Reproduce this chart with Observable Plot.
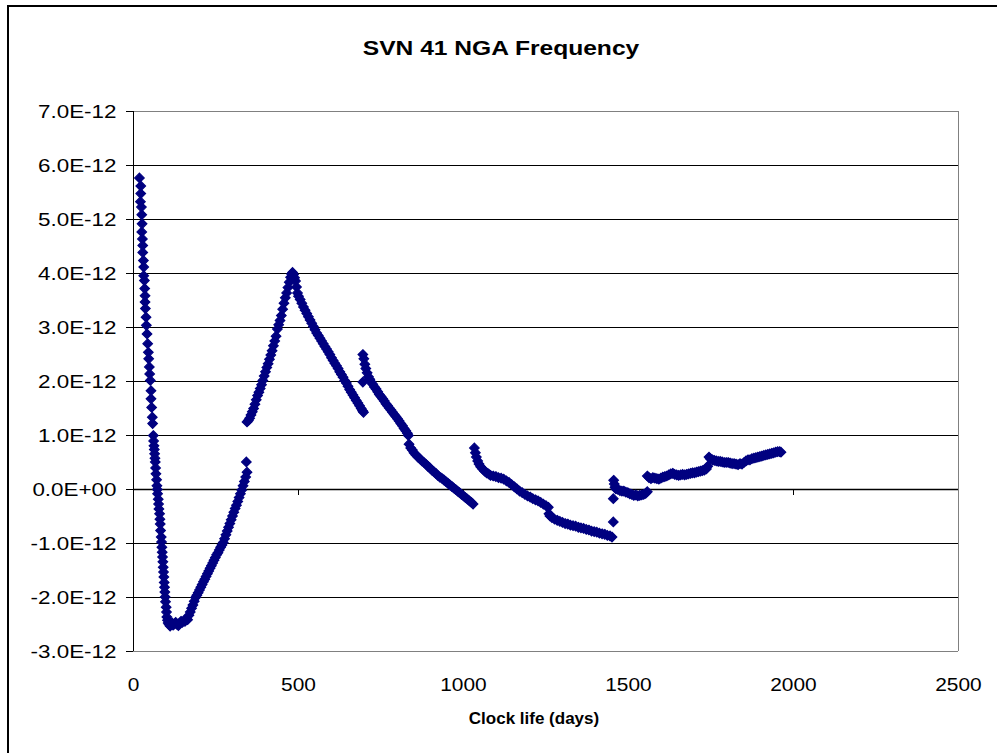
<!DOCTYPE html>
<html>
<head>
<meta charset="utf-8">
<script src="https://cdn.jsdelivr.net/npm/d3@7"></script>
<script src="https://cdn.jsdelivr.net/npm/@observablehq/plot@0.6"></script>
<style>
  html, body { margin: 0; padding: 0; background: #fff; overflow: hidden; }
  #wrap { position: relative; width: 997px; height: 753px; overflow: hidden; }
  #border { position: absolute; left: 7px; top: 5px; width: 1010px; height: 770px; border: 2px solid #000; box-sizing: border-box; }
  #chart { position: absolute; left: 0; top: 0; }
</style>
</head>
<body>
<div id="wrap"><div id="border"></div><div id="chart"></div></div>
<script>
// Frequency values in units of 1E-12, versus clock life (days)
const title = "SVN 41 NGA Frequency";
const xLabel = "Clock life (days)";
const xTicks = [0, 500, 1000, 1500, 2000, 2500];
const yTicks = [-3, -2, -1, 0, 1, 2, 3, 4, 5, 6, 7];

const run1 = [[18,5.77],[22,5.62],[22,5.48],[21,5.33],[24,5.23],[25,5.09],[26,4.92],[25,4.77],[27,4.64],[28,4.52],[28,4.39],[30,4.24],[31,4.12],[31,3.96],[33,3.87],[34,3.72],[35,3.59],[35,3.47],[36,3.35],[38,3.19],[39,3.04],[41,2.88],[43,2.70],[45,2.54],[46,2.42],[48,2.27],[49,2.14],[51,2.02],[53,1.83],[53,1.68],[55,1.52],[57,1.34],[58,1.22],[60,1.00],[61,0.90],[62,0.81],[63,0.74],[64,0.66],[65,0.58],[66,0.51],[67,0.40],[68,0.29],[70,0.18],[71,0.07],[72,0.00],[73,-0.08],[75,-0.18],[76,-0.27],[77,-0.36],[79,-0.45],[80,-0.55],[81,-0.64],[82,-0.76],[84,-0.88],[85,-0.97],[86,-1.07],[87,-1.16],[88,-1.25],[89,-1.34],[90,-1.44],[91,-1.53],[92,-1.62],[93,-1.72],[94,-1.81],[95,-1.90],[96,-1.99],[97,-2.08],[99,-2.18],[100,-2.27],[101,-2.36],[103,-2.42],[105,-2.47],[108,-2.50],[111,-2.53],[114,-2.50],[117,-2.47],[120,-2.51],[124,-2.49],[128,-2.46],[132,-2.50],[136,-2.52],[140,-2.48],[144,-2.44],[148,-2.46],[152,-2.43],[156,-2.44],[160,-2.40],[164,-2.41],[168,-2.33],[172,-2.27],[176,-2.20],[180,-2.14],[184,-2.07],[188,-2.00],[192,-1.96],[196,-1.91],[200,-1.86],[204,-1.81],[208,-1.76],[212,-1.71],[216,-1.66],[220,-1.61],[224,-1.56],[228,-1.51],[232,-1.46],[236,-1.41],[240,-1.36],[244,-1.31],[248,-1.26],[252,-1.21],[256,-1.17],[260,-1.12],[264,-1.07],[268,-1.03],[272,-0.98],[276,-0.91],[280,-0.84],[284,-0.77],[288,-0.70],[292,-0.63],[296,-0.56],[300,-0.49],[304,-0.42],[308,-0.35],[312,-0.29],[316,-0.22],[320,-0.15],[324,-0.08],[328,-0.01],[332,0.07],[336,0.15],[340,0.23],[342,0.51],[344,0.32]];

const run2 = [[344,1.25],[348,1.28],[352,1.32],[356,1.38],[360,1.44],[364,1.50],[368,1.58],[372,1.66],[376,1.74],[380,1.80],[384,1.87],[388,1.94],[392,2.02],[396,2.10],[400,2.18],[404,2.26],[408,2.33],[412,2.41],[416,2.49],[420,2.57],[424,2.66],[428,2.75],[432,2.84],[436,2.97],[440,3.05],[444,3.13],[448,3.22],[452,3.34],[456,3.45],[460,3.55],[464,3.64],[468,3.74],[472,3.84],[476,3.93],[479,3.99],[482,4.02],[485,3.98],[488,3.92],[491,3.86],[494,3.75],[497,3.64],[500,3.58],[505,3.52],[510,3.45],[515,3.38],[520,3.32],[525,3.26],[530,3.20],[535,3.14],[540,3.08],[545,3.02],[550,2.96],[555,2.90],[560,2.85],[565,2.80],[570,2.75],[575,2.70],[580,2.65],[585,2.60],[590,2.55],[595,2.50],[600,2.44],[605,2.39],[610,2.34],[615,2.29],[620,2.24],[625,2.18],[630,2.13],[635,2.08],[640,2.02],[645,1.97],[650,1.91],[655,1.85],[660,1.80],[665,1.75],[670,1.70],[675,1.65],[680,1.60],[685,1.55],[690,1.50],[694,1.46],[697,1.43]];

const run3 = [[695,1.99],[695,2.50],[698,2.42],[701,2.32],[704,2.24],[708,2.16],[712,2.09],[716,2.04],[720,1.99],[725,1.95],[730,1.90],[735,1.86],[740,1.81],[745,1.76],[750,1.72],[755,1.68],[760,1.64],[765,1.59],[770,1.55],[775,1.51],[780,1.47],[785,1.43],[790,1.39],[795,1.35],[800,1.31],[805,1.27],[810,1.22],[815,1.18],[820,1.13],[825,1.09],[830,1.04],[833,1.00],[835,0.84],[840,0.77],[845,0.73],[850,0.68],[856,0.64],[862,0.60],[868,0.57],[874,0.53],[880,0.50],[886,0.47],[892,0.43],[898,0.40],[904,0.36],[910,0.33],[916,0.30],[922,0.26],[928,0.23],[934,0.21],[940,0.18],[946,0.15],[952,0.12],[958,0.09],[964,0.06],[970,0.03],[976,0.00],[982,-0.03],[988,-0.06],[994,-0.09],[1000,-0.12],[1006,-0.15],[1012,-0.18],[1018,-0.21],[1024,-0.24],[1029,-0.27]];

const run4 = [[1033,0.77],[1036,0.68],[1039,0.60],[1043,0.53],[1047,0.47],[1052,0.42],[1058,0.38],[1064,0.34],[1070,0.31],[1076,0.29],[1082,0.26],[1090,0.25],[1098,0.24],[1106,0.22],[1114,0.21],[1122,0.19],[1130,0.16],[1138,0.13],[1146,0.09],[1154,0.05],[1162,0.01],[1170,-0.03],[1178,-0.06],[1186,-0.09],[1194,-0.12],[1202,-0.14],[1210,-0.17],[1218,-0.19],[1226,-0.21],[1234,-0.24],[1242,-0.27],[1250,-0.30],[1257,-0.33],[1259,-0.45],[1262,-0.49],[1268,-0.52],[1276,-0.55],[1284,-0.57],[1292,-0.59],[1300,-0.61],[1308,-0.63],[1316,-0.64],[1324,-0.66],[1332,-0.67],[1340,-0.68],[1348,-0.70],[1356,-0.71],[1364,-0.72],[1372,-0.74],[1380,-0.75],[1388,-0.77],[1396,-0.78],[1404,-0.79],[1412,-0.81],[1420,-0.82],[1428,-0.83],[1436,-0.85],[1444,-0.86],[1450,-0.88],[1454,-0.60],[1454,-0.17]];

const run5 = [[1455,0.17],[1457,0.10],[1459,0.04],[1462,0.01],[1468,0.00],[1474,-0.02],[1480,-0.03],[1486,-0.03],[1492,-0.05],[1498,-0.06],[1504,-0.08],[1510,-0.09],[1516,-0.11],[1522,-0.10],[1528,-0.12],[1534,-0.11],[1540,-0.10],[1546,-0.09],[1552,-0.07],[1557,-0.04],[1557,0.25],[1562,0.22],[1568,0.20],[1574,0.22],[1580,0.21],[1586,0.20],[1592,0.19],[1598,0.21],[1604,0.23],[1610,0.24],[1616,0.25],[1622,0.27],[1628,0.29],[1634,0.30],[1640,0.28],[1646,0.27],[1652,0.26],[1658,0.27],[1664,0.28],[1670,0.27],[1676,0.28],[1682,0.29],[1688,0.30],[1694,0.31],[1700,0.31],[1706,0.32],[1712,0.33],[1718,0.34],[1724,0.35],[1730,0.36],[1736,0.38],[1740,0.43],[1744,0.60],[1748,0.57],[1754,0.55],[1760,0.54],[1766,0.53],[1772,0.52],[1778,0.52],[1784,0.51],[1790,0.50],[1796,0.50],[1802,0.50],[1808,0.49],[1814,0.48],[1820,0.48],[1826,0.47],[1832,0.46],[1838,0.48],[1844,0.47],[1850,0.50],[1856,0.53],[1862,0.55],[1868,0.55],[1874,0.57],[1880,0.58],[1886,0.59],[1892,0.60],[1898,0.61],[1904,0.62],[1910,0.63],[1916,0.64],[1922,0.65],[1928,0.66],[1934,0.67],[1940,0.68],[1946,0.69],[1952,0.70],[1958,0.70],[1962,0.69]];

const points = [...run1, ...run2, ...run3, ...run4, ...run5].map(([day, f]) => ({day, f}));
const fmtY = d => d === 0 ? "0.0E+00" : d.toFixed(1) + "E-12";
const FONT = "'Liberation Sans', Arial, sans-serif";

const chart = Plot.plot({
  width: 997,
  height: 753,
  marginLeft: 133,
  marginRight: 39,
  marginTop: 111,
  marginBottom: 102,
  style: { fontFamily: FONT, background: "transparent", overflow: "visible" },
  x: { domain: [0, 2500] },
  y: { domain: [-3, 7] },
  marks: [
    Plot.ruleY(yTicks.filter(d => d > -3 && d < 7), { y: d => d, stroke: "#000", strokeWidth: 1 }),
    Plot.ruleY([7, -3], { stroke: "#808080", strokeWidth: 1 }),
    Plot.ruleX([2500], { stroke: "#808080", strokeWidth: 1 }),
    Plot.ruleX([0], { stroke: "#000", strokeWidth: 1 }),
    Plot.ruleY([0], { stroke: "#000", strokeWidth: 1.3 }),
    Plot.ruleX(xTicks.slice(1, -1), { x: d => d, y1: 0, y2: 0, insetBottom: -6, stroke: "#000" }),
    Plot.axisY({ ticks: yTicks, tickFormat: fmtY, tickSize: 7, tickPadding: 10, fontSize: 19, label: null, stroke: "#000" }),
    Plot.axisX({ ticks: xTicks, tickFormat: d => String(d), tickSize: 0, tickPadding: 26, fontSize: 19, label: null }),
    Plot.dot(points, { x: "day", y: "f", symbol: "diamond2", r: 4.3, fill: "#000080", stroke: "#000080", strokeWidth: 1.2 }),
    Plot.text([title], { frameAnchor: "top", dy: -71, dx: -45, text: d => d, fontSize: 20, fontWeight: "bold", fill: "#000" }),
    Plot.text([xLabel], { frameAnchor: "bottom", dy: 72, dx: -12, text: d => d, fontSize: 17, fontWeight: "bold", fill: "#000" })
  ]
});
document.getElementById("chart").appendChild(chart);

// Horizontal stretch of the text, as in the reference rendering
function stretch(selector, s) {
  chart.querySelectorAll(selector).forEach(t => {
    const tr = t.getAttribute("transform") || "";
    const x = +(t.getAttribute("x") || 0);
    t.setAttribute("transform", `${tr} translate(${x},0) scale(${s},1) translate(${-x},0)`);
  });
}
stretch('g[aria-label="y-axis tick label"] text', 1.18);
stretch('g[aria-label="x-axis tick label"] text', 1.1);
const textGroups = chart.querySelectorAll('g[aria-label="text"]');
if (textGroups[0]) textGroups[0].querySelectorAll("text").forEach(t => {
  const tr = t.getAttribute("transform") || "";
  const x = +(t.getAttribute("x") || 0);
  t.setAttribute("transform", `${tr} translate(${x},0) scale(1.23,1) translate(${-x},0)`);
});
</script>
</body>
</html>
